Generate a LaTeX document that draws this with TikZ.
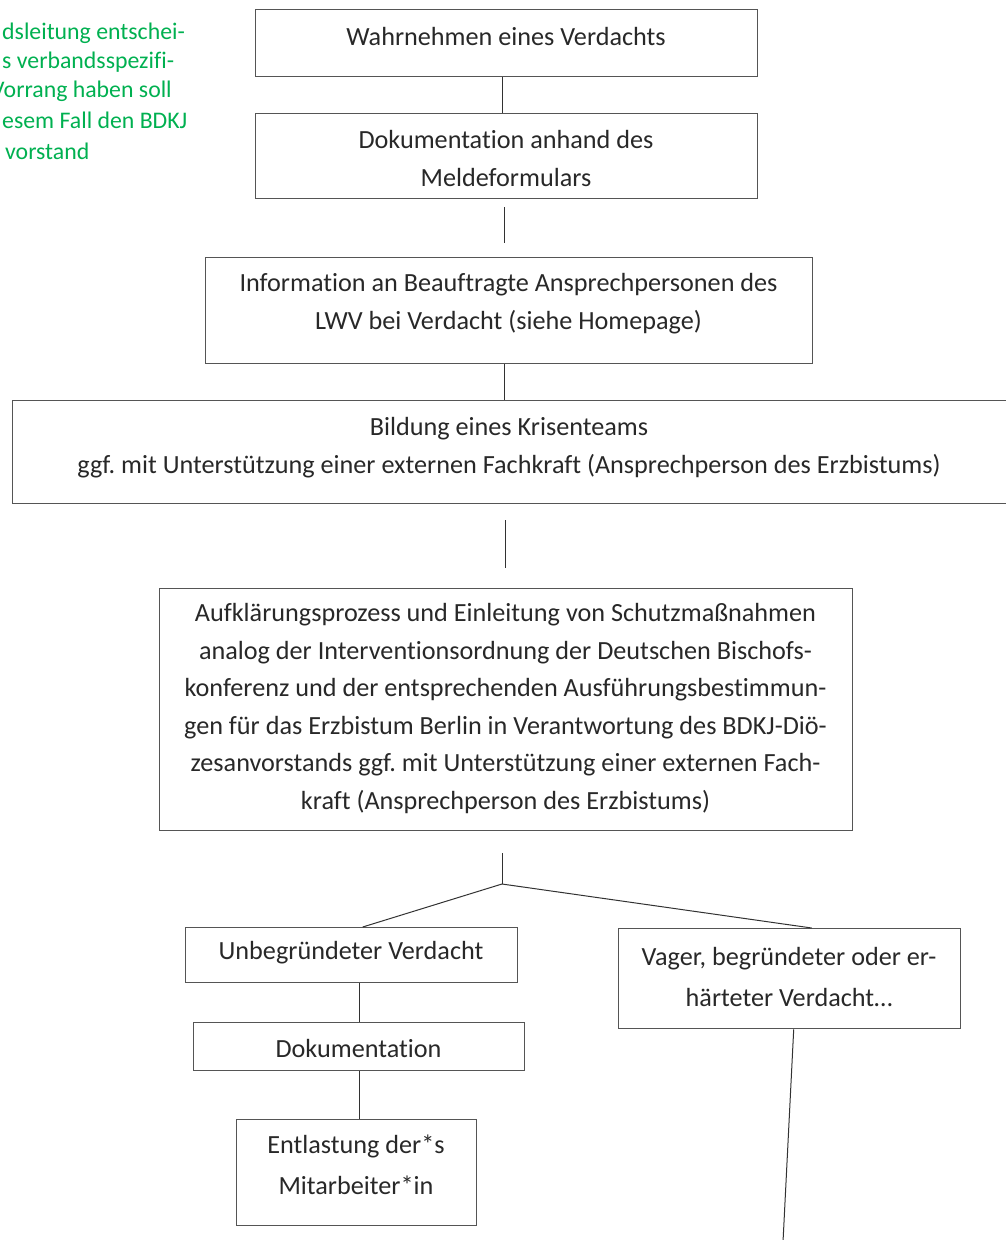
\documentclass[tikz,border=0pt]{standalone}
\usepackage{fontspec}
\setmainfont{Carlito}[Ligatures={NoCommon}]
\usetikzlibrary{calc}
\definecolor{boxcol}{RGB}{85,85,85}
\definecolor{linecol}{RGB}{50,50,50}
\definecolor{txtcol}{RGB}{40,40,40}
\definecolor{grn}{RGB}{0,176,80}
\begin{document}
\frenchspacing
\begin{tikzpicture}[x=1pt,y=-1pt,
 box/.style={draw=boxcol, line width=1.4pt, rectangle, inner sep=0pt, anchor=north west},
 txt/.style={text=txtcol, align=center, inner sep=0pt, font=\fontsize{26.2}{37.5}\selectfont},
 txtw/.style={txt, font=\fontsize{26.2}{40.5}\selectfont},
 conn/.style={draw=linecol, line width=1pt},
 gtxt/.style={text=grn, inner sep=0pt, anchor=west, font=\fontsize{23.8}{29.5}\selectfont}]
\useasboundingbox (0,0) rectangle (1006,1240);
\clip (0,0) rectangle (1006,1240);

% green side note (cut off at the left edge)
\node[gtxt] (g1) at (2,33) {dsleitung entschei-};
\node[gtxt] (g2) at (2,62) {s verbandsspezifi-};
\node[gtxt] (g3) at (-9,91) {Vorrang haben soll};
\node[gtxt] (g4) at (2,120) {esem Fall den BDKJ};
\node[gtxt] (g5) at (5,151) {vorstand};

% boxes
\node[box, minimum width=502pt, minimum height=67pt] (b1) at (255,9) {};
\node[box, minimum width=502pt, minimum height=85pt] (b2) at (255,113) {};
\node[box, minimum width=607pt, minimum height=106pt] (b3) at (205,257) {};
\node[box, minimum width=1010pt, minimum height=103pt] (b4) at (12,400) {};
\node[box, minimum width=693pt, minimum height=242pt] (b5) at (159,588) {};
\node[box, minimum width=332pt, minimum height=55pt] (u1) at (185,927) {};
\node[box, minimum width=331pt, minimum height=48pt] (d1) at (193,1022) {};
\node[box, minimum width=240pt, minimum height=106pt] (e1) at (236,1119) {};
\node[box, minimum width=342pt, minimum height=100pt] (v1) at (618,928) {};

% texts
\node[txt] (t1) at (506,36) {Wahrnehmen eines Verdachts};
\node[txt] (t2) at (506,158.5) {Dokumentation anhand des\\Meldeformulars};
\node[txt] (t3) at (508.5,303.5) {Information an Beauftragte Ansprechpersonen des\\LWV bei Verdacht (siehe Homepage)};
\node[txt] (t4) at (509,447.5) {Bildung eines Krisenteams\\ggf. mit Unterstützung einer externen Fachkraft (Ansprechperson des Erzbistums)};
\node[txt] (t5) at (505.5,708.5) {Aufklärungsprozess und Einleitung von Schutzmaßnahmen\\analog der Interventionsordnung der Deutschen Bischofs-\\konferenz und der entsprechenden Ausführungsbestimmun-\\gen für das Erzbistum Berlin in Verantwortung des BDKJ-Diö-\\zesanvorstands ggf. mit Unterstützung einer externen Fach-\\kraft (Ansprechperson des Erzbistums)};
\node[txt] (tu) at (351,953) {Unbegründeter Verdacht};
\node[txt] (td) at (358.5,1048) {Dokumentation};
\node[txtw] (te) at (356,1165) {Entlastung der*s\\Mitarbeiter*in};
\node[txtw] (tv) at (789,977) {Vager, begründeter oder er-\\härteter Verdacht…};

% connectors
\draw[conn] ([xshift=-4pt]b1.south) -- ([xshift=-4pt]b2.north);
\coordinate (f1a) at (504,207);
\coordinate (f1b) at (504,243);
\draw[conn] (f1a) -- (f1b);
\draw[conn] ([xshift=-4.5pt]b3.south) -- ([xshift=-4.5pt]b3.south |- b4.north);
\coordinate (f2a) at (505,520);
\coordinate (f2b) at (505,568);
\draw[conn] (f2a) -- (f2b);
\coordinate (br0) at (502,853);
\coordinate (br) at (502,884);
\draw[conn] (br0) -- (br);
\draw[conn] (br) -- ([xshift=11pt]u1.north);
\draw[conn] (br) -- ([xshift=22pt]v1.north);
\draw[conn] (d1.north |- u1.south) -- (d1.north);
\draw[conn] (d1.south) -- (d1.south |- e1.north);
\coordinate (vend) at (783,1242);
\draw[conn] ([xshift=4pt]v1.south) -- (vend);
\end{tikzpicture}
\end{document}
